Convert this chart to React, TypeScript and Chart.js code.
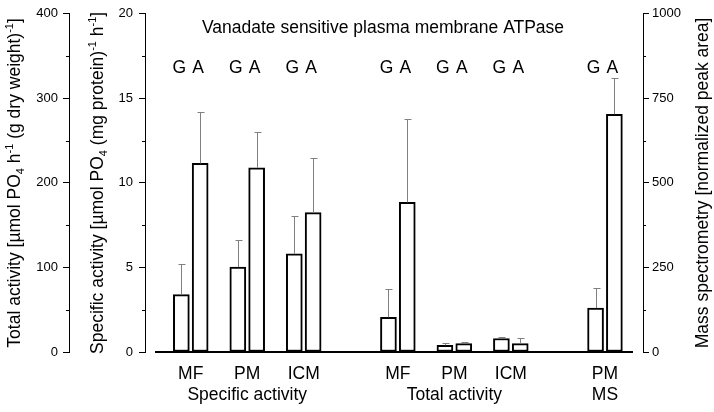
import React, { useEffect, useRef } from "react";
import { Chart, registerables } from "chart.js";

Chart.register(...registerables);

// ---------- data ----------
const SECTIONS = ["Specific activity", "Total activity", "MS"];
const SERIES = ["G", "A"];

const SPEC_CATS = ["MF", "PM", "ICM"];
const SPEC_G = [3.39, 5.02, 5.81];
const SPEC_A = [11.15, 10.89, 8.24];
const SPEC_G_SD = [1.82, 1.59, 2.21];
const SPEC_A_SD = [3.02, 2.11, 3.25];

const TOTAL_CATS = ["MF", "PM", "ICM"];
const TOTAL_G = [41, 8, 16];
const TOTAL_A = [177, 10, 10];
const TOTAL_G_SD = [33, 3, 2];
const TOTAL_A_SD = [98, 2, 7];

const MS_CATS = ["PM"];
const MS_G = [130];
const MS_A = [703];
const MS_G_SD = [58];
const MS_A_SD = [107];

const TOTAL_TICKS = [0, 100, 200, 300, 400];
const SPEC_TICKS = [0, 5, 10, 15, 20];
const MS_TICKS = [0, 250, 500, 750, 1000];

const CHART_TITLE = "Vanadate sensitive plasma membrane ATPase";

type Seg = { t: string; k?: "sub" | "sup" };
const TOTAL_TITLE: Seg[] = [
  { t: "Total activity [µmol PO" },
  { t: "4", k: "sub" },
  { t: " h" },
  { t: "-1", k: "sup" },
  { t: " (g dry weight)" },
  { t: "-1", k: "sup" },
  { t: "]" },
];
const SPEC_TITLE: Seg[] = [
  { t: "Specific activity [µmol PO" },
  { t: "4", k: "sub" },
  { t: " (mg protein)" },
  { t: "-1", k: "sup" },
  { t: " h" },
  { t: "-1", k: "sup" },
  { t: "]" },
];
const MS_TITLE: Seg[] = [{ t: "Mass spectrometry [normalized peak area]" }];

// ---------- layout / style ----------
const FONT = "'Liberation Sans', Arial, Helvetica, sans-serif";
const TEXT_SIZE = 17.5;
const SECTION_START = [0, 11, 22]; // slot index of first bar of each section
const GROUP_STRIDE = 3;

const sections = [
  { cats: SPEC_CATS, g: SPEC_G, a: SPEC_A, gsd: SPEC_G_SD, asd: SPEC_A_SD, axis: "yS" },
  { cats: TOTAL_CATS, g: TOTAL_G, a: TOTAL_A, gsd: TOTAL_G_SD, asd: TOTAL_A_SD, axis: "yT" },
  { cats: MS_CATS, g: MS_G, a: MS_A, gsd: MS_G_SD, asd: MS_A_SD, axis: "yM" },
];

const xTickValues: number[] = [];
const xTickLabels: string[][] = [];
sections.forEach((sec, si) => {
  sec.cats.forEach((c, i) => {
    xTickValues.push(SECTION_START[si] + i * GROUP_STRIDE + 0.5);
    const mid = Math.floor((sec.cats.length - 1) / 2);
    xTickLabels.push(i === mid ? [c, SECTIONS[si]] : [c]);
  });
});

const datasets = sections.map((sec, si) => ({
  type: "bar" as const,
  label: SECTIONS[si],
  yAxisID: sec.axis,
  data: sec.cats.flatMap((c, i) => [
    { x: SECTION_START[si] + i * GROUP_STRIDE, y: sec.g[i], sd: sec.gsd[i], s: SERIES[0] },
    { x: SECTION_START[si] + i * GROUP_STRIDE + 1, y: sec.a[i], sd: sec.asd[i], s: SERIES[1] },
  ]),
  backgroundColor: "#ffffff",
  borderColor: "#000000",
  borderWidth: 2,
  borderSkipped: false,
  barThickness: 16,
  grouped: false,
}));

function drawRich(ctx: CanvasRenderingContext2D, segs: Seg[], cx: number, cy: number, size: number) {
  ctx.save();
  ctx.translate(cx, cy);
  ctx.rotate(-Math.PI / 2);
  const small = Math.round(size * 0.65);
  const fontFor = (k?: string) => `${k ? small : size}px ${FONT}`;
  let w = 0;
  segs.forEach((s) => {
    ctx.font = fontFor(s.k);
    w += ctx.measureText(s.t).width;
  });
  let x = -w / 2;
  ctx.textBaseline = "alphabetic";
  ctx.textAlign = "left";
  ctx.fillStyle = "#000";
  const base = size * 0.36;
  segs.forEach((s) => {
    ctx.font = fontFor(s.k);
    const dy = s.k === "sub" ? size * 0.22 : s.k === "sup" ? -size * 0.42 : 0;
    ctx.fillText(s.t, x, base + dy);
    x += ctx.measureText(s.t).width;
  });
  ctx.restore();
}

const decorPlugin = {
  id: "decor",
  afterDatasetsDraw(chart: any) {
    const { ctx, chartArea } = chart;
    // error bars
    ctx.save();
    ctx.strokeStyle = "#808080";
    ctx.lineWidth = 1;
    chart.data.datasets.forEach((ds: any, di: number) => {
      const meta = chart.getDatasetMeta(di);
      const yScale = chart.scales[ds.yAxisID];
      meta.data.forEach((bar: any, i: number) => {
        const pt = ds.data[i];
        const x = Math.round(bar.x) + 0.5;
        const yTop = Math.round(yScale.getPixelForValue(pt.y + pt.sd)) + 0.5;
        ctx.beginPath();
        ctx.moveTo(x, bar.y);
        ctx.lineTo(x, yTop);
        ctx.moveTo(x - 3, yTop);
        ctx.lineTo(x + 4, yTop);
        ctx.stroke();
      });
    });
    ctx.restore();
    // baseline
    ctx.save();
    ctx.strokeStyle = "#000";
    ctx.lineWidth = 2;
    ctx.beginPath();
    ctx.moveTo(chartArea.left + 10, chartArea.bottom);
    ctx.lineTo(chartArea.right - 10, chartArea.bottom);
    ctx.stroke();
    ctx.restore();
  },
  afterDraw(chart: any) {
    const { ctx, chartArea, scales } = chart;
    ctx.save();
    // minor ticks
    ctx.strokeStyle = "#000";
    ctx.lineWidth = 1;
    const minor = (id: string, vals: number[], side: "left" | "right") => {
      const sc = scales[id];
      for (let i = 0; i < vals.length - 1; i++) {
        const v = (vals[i] + vals[i + 1]) / 2;
        const y = Math.round(sc.getPixelForValue(v)) + 0.5;
        ctx.beginPath();
        if (side === "left") {
          ctx.moveTo(sc.right - 3, y);
          ctx.lineTo(sc.right, y);
        } else {
          ctx.moveTo(sc.left, y);
          ctx.lineTo(sc.left + 3, y);
        }
        ctx.stroke();
      }
    };
    minor("yT", TOTAL_TICKS, "left");
    minor("yS", SPEC_TICKS, "left");
    minor("yM", MS_TICKS, "right");

    // chart title
    ctx.fillStyle = "#000";
    ctx.font = `${TEXT_SIZE}px ${FONT}`;
    ctx.textAlign = "center";
    ctx.textBaseline = "alphabetic";
    ctx.fillText(CHART_TITLE, (chartArea.left + chartArea.right) / 2 - 11, chartArea.top + 19);

    // G / A labels
    chart.data.datasets.forEach((ds: any, di: number) => {
      const meta = chart.getDatasetMeta(di);
      meta.data.forEach((bar: any, i: number) => {
        ctx.fillText(ds.data[i].s, bar.x - 2, chartArea.top + 58.7);
      });
    });

    // axis titles
    const cy = (chartArea.top + chartArea.bottom) / 2;
    drawRich(ctx, TOTAL_TITLE, 14, cy, TEXT_SIZE);
    drawRich(ctx, SPEC_TITLE, 97, cy, TEXT_SIZE);
    drawRich(ctx, MS_TITLE, 702, cy, TEXT_SIZE);
    ctx.restore();
  },
};

const yAxis = (ticksArr: number[], position: "left" | "right", weight: number, width: number, padding: number) => ({
  type: "linear" as const,
  position,
  weight,
  min: ticksArr[0],
  max: ticksArr[ticksArr.length - 1],
  afterBuildTicks: (s: any) => {
    s.ticks = ticksArr.map((v) => ({ value: v }));
  },
  ticks: {
    color: "#000",
    font: { size: 13, family: FONT },
    padding,
    autoSkip: false,
    callback: (v: any) => String(v),
  },
  grid: {
    display: true,
    drawOnChartArea: false,
    drawTicks: true,
    tickLength: 6,
    tickColor: "#000",
    tickWidth: 1,
  },
  border: { display: true, color: "#000", width: 1 },
  afterFit: (s: any) => {
    s.width = width;
  },
});

export default function App() {
  const ref = useRef<HTMLCanvasElement>(null);
  useEffect(() => {
    const canvas = ref.current;
    if (!canvas) return;
    Chart.defaults.font.family = FONT;
    const chart = new Chart(canvas, {
      type: "bar",
      data: { datasets: datasets as any },
      options: {
        animation: false,
        responsive: false,
        devicePixelRatio: 1,
        layout: { padding: { top: 8, left: 0, right: 0, bottom: 0 } },
        plugins: { legend: { display: false }, tooltip: { enabled: false }, title: { display: false } },
        scales: {
          x: {
            type: "linear",
            offset: false,
            min: -1.93,
            max: 24.52,
            afterBuildTicks: (s: any) => {
              s.ticks = xTickValues.map((v) => ({ value: v }));
            },
            ticks: {
              callback: (_v: any, i: number) => xTickLabels[i],
              color: "#000",
              font: { size: TEXT_SIZE, family: FONT, lineHeight: 1.22 },
              padding: 11,
              autoSkip: false,
              maxRotation: 0,
              minRotation: 0,
            },
            grid: { display: false, drawTicks: false, tickLength: 0 },
            border: { display: false },
            afterFit: (s: any) => {
              s.height = 60;
            },
          },
          yT: yAxis(TOTAL_TICKS, "left", 2, 69, 5),
          yS: yAxis(SPEC_TICKS, "left", 1, 76, 6),
          yM: yAxis(MS_TICKS, "right", 1, 71, 3),
        } as any,
      },
      plugins: [decorPlugin],
    } as any);
    return () => chart.destroy();
  }, []);
  return (
    <div style={{ position: "absolute", left: 0, top: 0, width: 714, height: 412, background: "#fff" }}>
      <canvas ref={ref} width={714} height={412} style={{ display: "block", width: 714, height: 412 }} />
    </div>
  );
}
